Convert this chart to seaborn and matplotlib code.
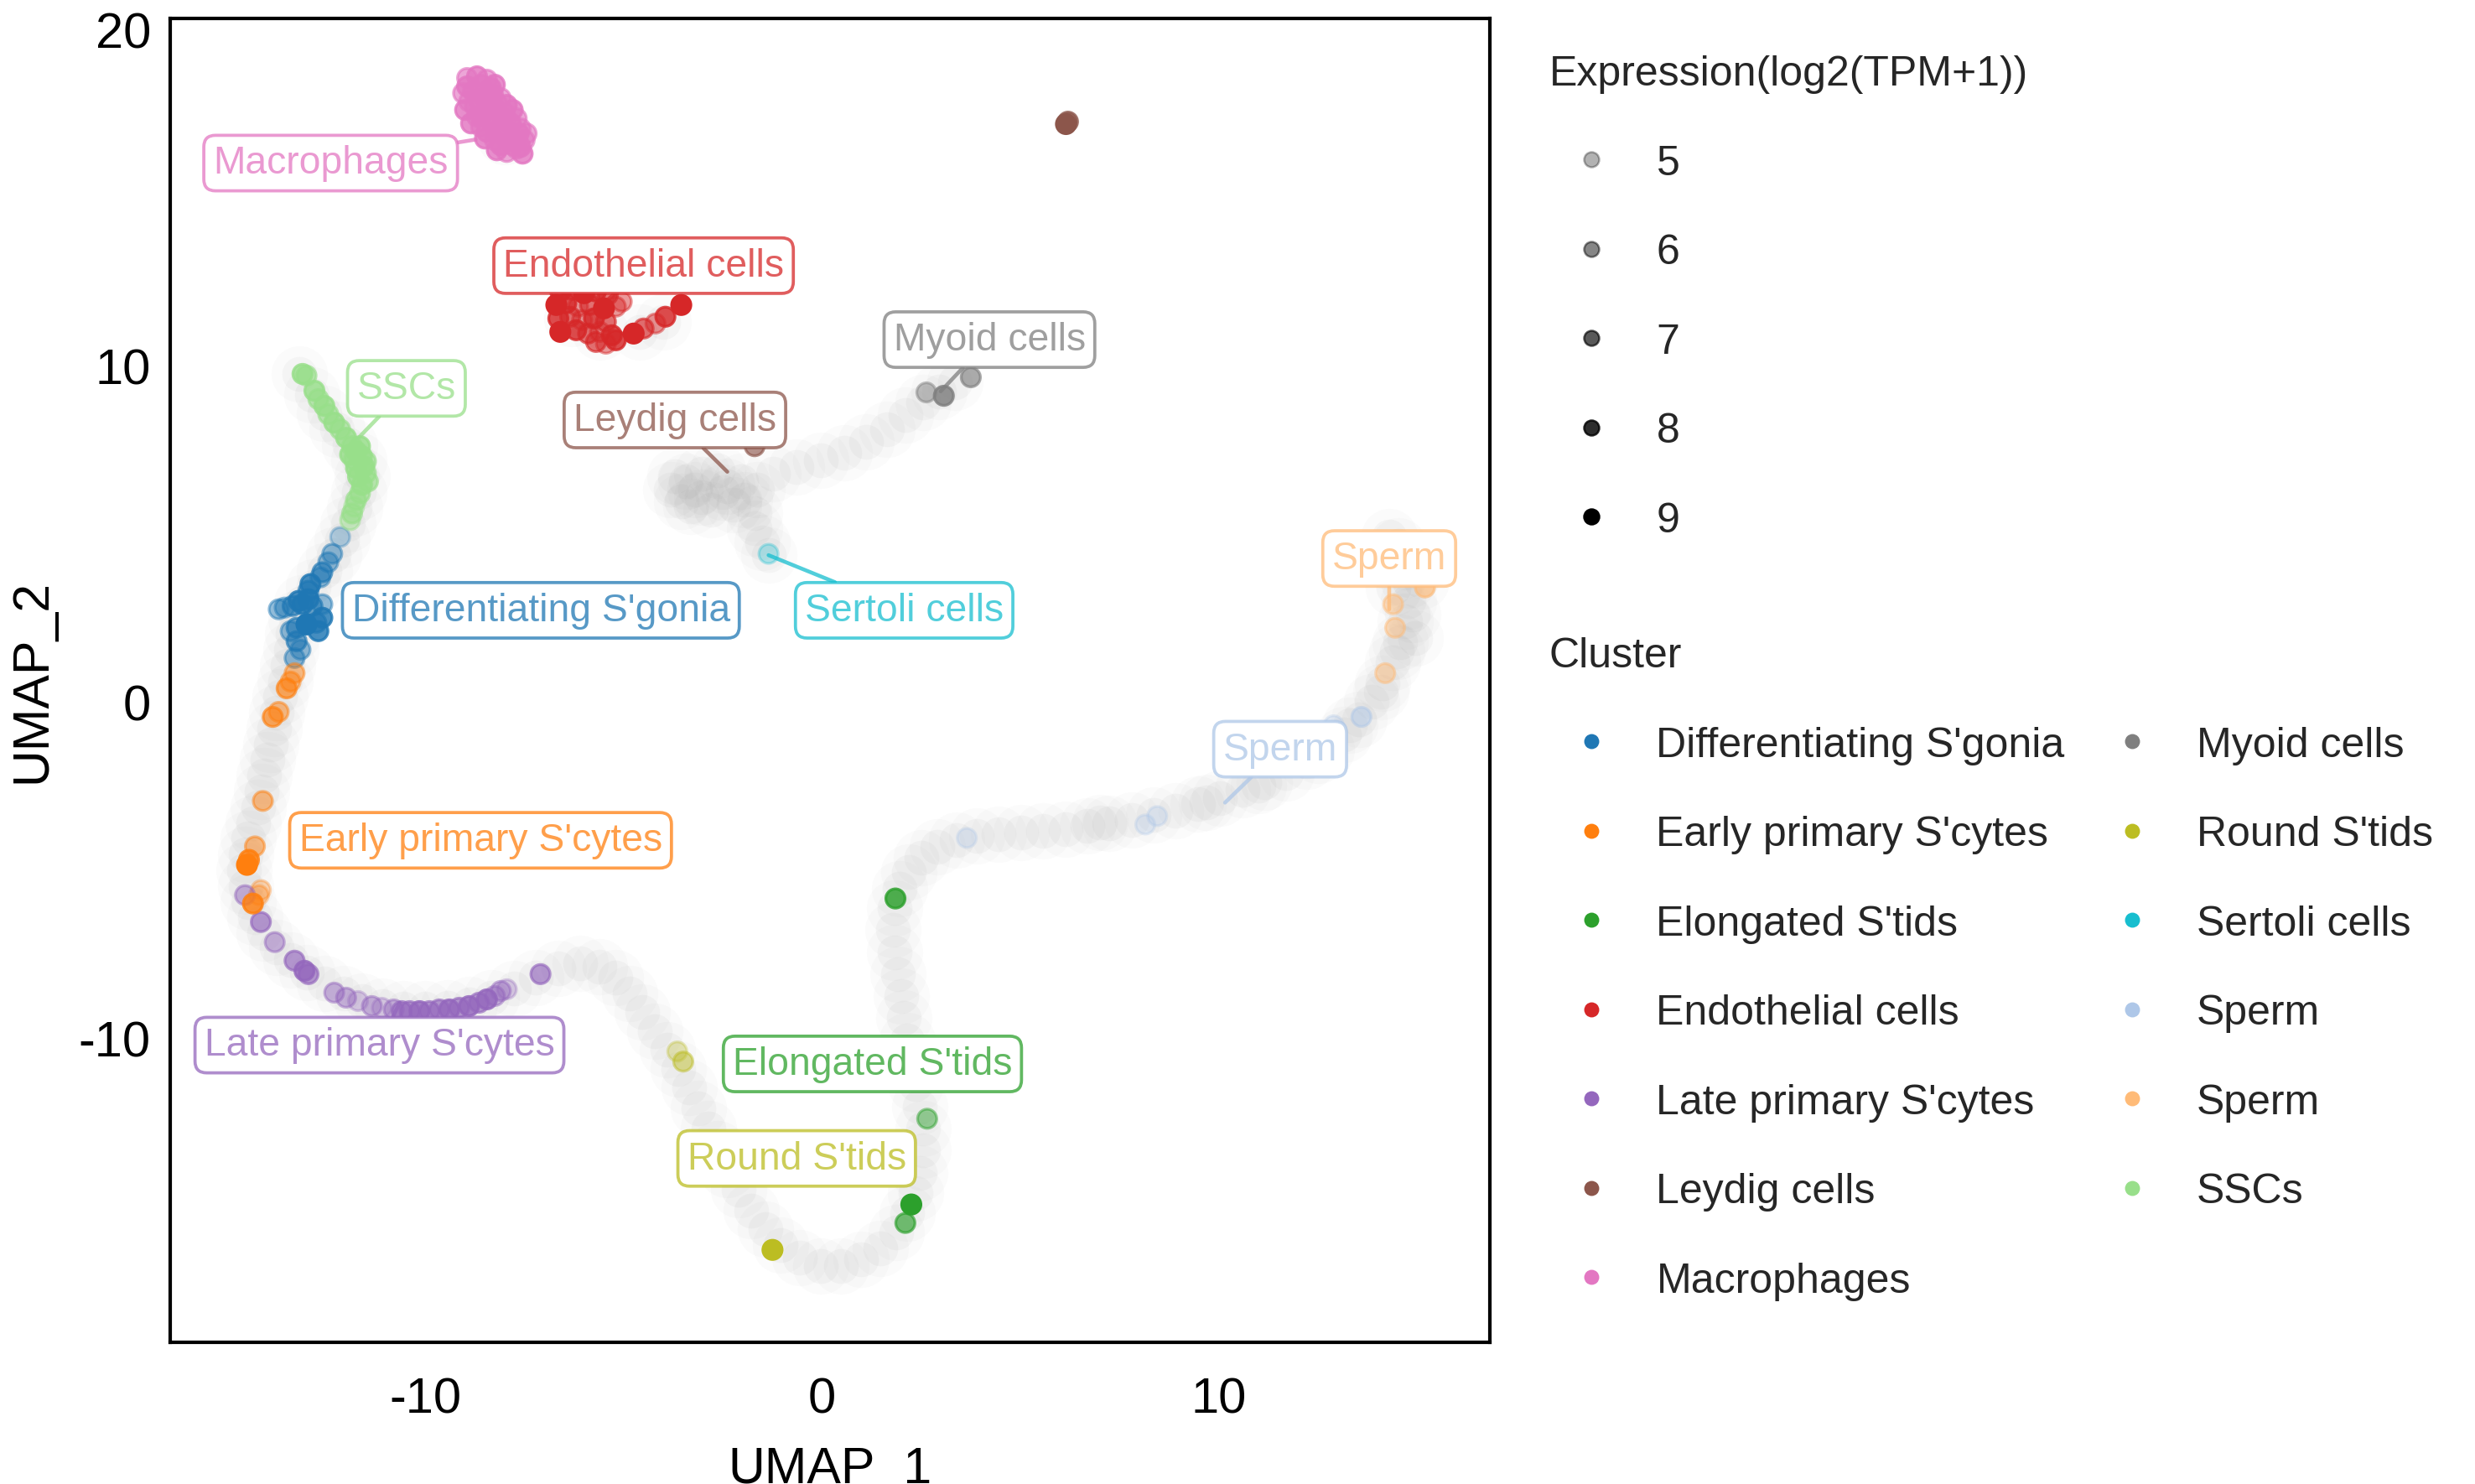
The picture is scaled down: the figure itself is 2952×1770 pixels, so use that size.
import matplotlib
matplotlib.use("Agg")
import matplotlib.pyplot as plt
from matplotlib.lines import Line2D
from matplotlib.colors import to_rgba
import numpy as np
import pandas as pd
import seaborn as sns

# ---------------- data ----------------
cluster_keys = ["Differentiating S'gonia", "Early primary S'cytes", "Elongated S'tids",
                "Endothelial cells", "Late primary S'cytes", "Leydig cells", "Macrophages",
                "Myoid cells", "Round S'tids", "Sertoli cells", "Sperm_a", "Sperm_b", "SSCs"]
cluster_labels = ["Differentiating S'gonia", "Early primary S'cytes", "Elongated S'tids",
                  "Endothelial cells", "Late primary S'cytes", "Leydig cells", "Macrophages",
                  "Myoid cells", "Round S'tids", "Sertoli cells", "Sperm", "Sperm", "SSCs"]
cluster_colors = ["#1f77b4", "#ff7f0e", "#2ca02c", "#d62728", "#9467bd", "#8c564b", "#e377c2",
                  "#7f7f7f", "#bcbd22", "#17becf", "#aec7e8", "#ffbb78", "#98df8a"]
expr_levels = [5, 6, 7, 8, 9]

# background (all cells) along the trajectory
bg_x = [-13.19, -12.87, -12.55, -12.23, -11.91, -11.67, -11.59, -11.67, -11.79, -11.95, -12.11,
        -12.31, -12.55, -12.83, -13.11, -13.27, -13.35, -13.39, -13.47, -13.55, -13.67, -13.75,
        -13.82, -13.90, -13.98, -14.06, -14.14, -14.22, -14.34, -14.46, -14.54, -14.58, -14.54,
        -14.46, -14.30, -14.06, -13.75, -13.39, -12.99, -12.55, -12.07, -11.59, -11.08, -10.56,
        -10.00, -9.44, -8.88, -8.33, -7.77, -7.21, -6.65, -6.10, -5.62, -5.22, -4.86, -4.54,
        -4.22, -3.90, -3.63, -3.35, -3.11, -2.87, -2.63, -2.39, -2.11, -1.79, -1.43, -1.04,
        -0.56, -0.04, 0.48, 0.99, 1.47, 1.87, 2.15, 2.35, 2.47, 2.55, 2.55, 2.47, 2.35, 2.23,
        2.15, 2.07, 1.99, 1.91, 1.83, 1.79, 1.83, 1.95, 2.19, 2.51, 2.91, 3.39, 3.90, 4.46,
        5.02, 5.58, 6.14, 6.69, 7.25, 7.81, 8.37, 8.92, 9.48, 10.04, 10.60, 11.16, 11.71,
        12.23, 12.71, 13.15, 13.55, 13.86, 14.14, 14.38, 14.58, 14.70, 14.78, 14.78, 14.70,
        14.54, 14.30,
        -3.82, -3.43, -3.03, -2.63, -3.55, -3.03, -2.51, -2.03, -2.23, -1.63, -1.71, -1.24,
        -0.64, -0.04, 0.56, 1.12, 1.63, 2.11, 2.55, 2.95, 3.35, -1.71, -1.51, -1.35,
        -3.70, -3.20, -2.80, -2.40, -1.95, -3.30,
        -6.3, -5.6, -4.6, -4.0, -8.4, -8.0,
        14.5, 14.9, 14.4, 14.1, 13.3, 12.5, 15.1, 11.0, 9.7, 7.0, 14.95, 14.25]
bg_y = [9.74, 9.13, 8.57, 8.10, 7.63, 7.17, 6.70, 6.23, 5.76, 5.29, 4.82,
        4.36, 3.89, 3.42, 2.95, 2.48, 2.01, 1.55, 1.08, 0.61, 0.14, -0.33,
        -0.80, -1.26, -1.73, -2.20, -2.67, -3.14, -3.61, -4.07, -4.54, -5.01, -5.48,
        -5.95, -6.42, -6.89, -7.31, -7.68, -8.06, -8.38, -8.67, -8.90, -9.04, -9.13,
        -9.13, -9.09, -8.99, -8.81, -8.52, -8.20, -7.92, -7.78, -7.87, -8.20, -8.67, -9.23,
        -9.79, -10.35, -10.91, -11.48, -12.08, -12.69, -13.30, -13.91, -14.52, -15.13, -15.69, -16.16,
        -16.53, -16.77, -16.77, -16.58, -16.25, -15.78, -15.22, -14.61, -14.00, -13.35, -12.69, -12.04, -11.38, -10.73,
        -10.07, -9.41, -8.76, -8.10, -7.45, -6.79, -6.14, -5.57, -5.06, -4.64, -4.31, -4.12, -3.98, -3.93,
        -3.89, -3.84, -3.79, -3.70, -3.61, -3.51, -3.37, -3.23, -3.04, -2.86, -2.62, -2.39, -2.11,
        -1.78, -1.41, -0.98, -0.52, 0.00, 0.56, 1.17, 1.78, 2.39, 3.00, 3.61, 4.17,
        4.64, 4.92,
        6.32, 6.56, 6.79, 6.89, 5.95, 6.09, 6.23, 6.56, 5.85, 6.32, 5.62, 6.79,
        6.98, 7.17, 7.40, 7.73, 8.10, 8.52, 8.90, 9.23, 9.51, 5.15, 4.73, 4.36,
        6.70, 6.30, 5.70, 6.40, 6.00, 5.80,
        11.4, 11.0, 11.0, 11.3, 17.4, 16.8,
        1.5, 2.6, 3.4, 0.3, -0.7, -1.6, 3.6, -2.5, -3.0, -3.6, 1.9, 4.2]

# coloured cells: coordinates and expression (log2(TPM+1)) per cluster
dsg_x = [-12.15, -12.35, -12.45, -12.6, -12.65, -12.9, -12.95, -13.2, -13.35, -13.55, -13.7, -13.1,
         -12.85, -12.6, -12.6, -12.75, -13.0, -13.25, -13.4, -13.25, -13.15, -13.3, -12.7, -12.95]
dsg_y = [4.9, 4.4, 4.15, 3.85, 3.7, 3.5, 3.3, 3.0, 2.85, 2.8, 2.75, 2.9,
         2.85, 2.9, 2.5, 2.35, 2.3, 2.2, 2.1, 1.8, 1.55, 1.3, 2.1, 3.05]
dsg_e = [5, 6, 6, 7, 6, 8, 7, 8, 7, 6, 6, 8, 7, 6, 8, 7, 9, 7, 6, 7, 6, 6, 8, 8]

eps_x = [-13.3, -13.4, -13.5, -13.7, -13.85, -14.1, -14.3, -14.45, -14.5, -14.15, -14.35, -14.2]
eps_y = [0.85, 0.6, 0.4, -0.3, -0.45, -2.95, -4.3, -4.7, -4.85, -5.6, -6.0, -5.75]
eps_e = [6, 6, 7, 6, 7, 6, 6, 8, 9, 5, 8, 5]

est_x = [1.85, 2.65, 2.25, 2.1]
est_y = [-5.85, -12.4, -14.95, -15.5]
est_e = [8, 6, 9, 7]

endo_x = [-6.6, -6.3, -6.0, -5.7, -5.4, -6.7, -6.45, -6.15, -5.85, -5.5, -5.2, -6.65, -6.35,
          -6.05, -5.75, -5.45, -6.6, -6.2, -5.9, -5.6, -5.3, -5.7, -5.45, -5.2,
          -4.75, -4.5, -4.2, -3.95, -3.55, -5.05]
endo_y = [12.2, 12.25, 12.15, 12.2, 12.1, 11.8, 11.85, 11.75, 11.8, 11.7, 11.75, 11.4, 11.45,
          11.35, 11.4, 11.3, 11.0, 11.05, 10.95, 11.0, 10.9, 10.7, 10.65, 10.75,
          10.95, 11.1, 11.25, 11.45, 11.8, 11.9]
endo_e = [8, 7, 9, 8, 7, 9, 8, 6, 7, 9, 6, 8, 7, 6, 8, 7, 9, 8, 7, 6, 8, 7, 6, 8,
          9, 7, 6, 8, 9, 6]

lps_x = [-14.55, -14.15, -13.8, -13.3, -13.05, -12.95, -12.3, -12.0, -11.7, -11.35, -11.1, -10.8,
         -10.6, -10.4, -10.15, -9.9, -9.65, -9.4, -9.15, -8.9, -8.65, -8.45, -8.25, -8.1, -7.95, -7.1]
lps_y = [-5.75, -6.55, -7.15, -7.7, -8.0, -8.1, -8.65, -8.8, -8.9, -9.05, -9.1, -9.15,
         -9.2, -9.2, -9.2, -9.2, -9.15, -9.15, -9.1, -9.05, -8.95, -8.85, -8.75, -8.6, -8.55, -8.1]
lps_e = [6, 7, 6, 7, 8, 7, 6, 6, 5, 6, 5, 6, 7, 7, 8, 7, 7, 8, 7, 8, 7, 8, 6, 6, 5, 7]

ley_x = [-1.7, 6.2, 6.15]
ley_y = [7.6, 17.25, 17.18]
ley_e = [7, 8, 9]

mac_x = [-8.95, -8.7, -8.45, -8.25, -9.05, -8.8, -8.55, -8.3, -8.1, -9.0, -8.75, -8.5, -8.25,
         -8.0, -7.8, -8.85, -8.6, -8.35, -8.1, -7.85, -7.6, -8.5, -8.25, -8.0, -7.75, -7.5,
         -8.2, -7.95, -7.7, -7.55, -8.7, -8.4, -7.9,
         -8.95, -8.6, -8.35, -8.9, -8.65, -8.2, -7.95, -8.6, -8.3, -8.05, -7.7, -8.45, -8.2,
         -7.65, -7.45, -8.1, -7.8, -7.6]
mac_y = [18.55, 18.6, 18.5, 18.35, 18.1, 18.15, 18.0, 18.05, 17.95, 17.6, 17.7, 17.55, 17.65,
         17.5, 17.6, 17.2, 17.1, 17.25, 17.1, 17.2, 17.05, 16.75, 16.7, 16.8, 16.65, 16.7,
         16.4, 16.35, 16.45, 16.3, 17.4, 17.85, 16.95,
         18.3, 18.35, 18.25, 17.85, 17.9, 17.8, 17.75, 17.4, 17.45, 17.35, 17.35, 16.95, 16.95,
         16.9, 16.9, 16.55, 16.55, 16.5]
mac_e = [7, 8, 7, 8, 7, 8, 7, 8, 7, 8, 7, 8, 7, 7, 8, 8, 7, 8, 7, 8, 7, 8, 7, 7, 8, 7,
         8, 7, 7, 8, 7, 8, 7,
         8, 7, 8, 7, 8, 7, 8, 8, 7, 8, 7, 8, 7, 8, 7, 8, 7, 8]

myo_x = [2.63, 3.07, 3.75]
myo_y = [9.2, 9.1, 9.65]
myo_e = [6, 8, 7]

rst_x = [-3.65, -3.5, -1.25]
rst_y = [-10.4, -10.7, -16.3]
rst_e = [5, 6, 9]

ser_x = [-1.35]
ser_y = [4.4]
ser_e = [5]

spa_x = [3.65, 8.15, 8.45, 12.9, 13.6]
spa_y = [-4.05, -3.65, -3.4, -0.7, -0.45]
spa_e = [5, 5, 5, 5, 6]

spb_x = [15.2, 14.4, 14.45, 14.2]
spb_y = [3.4, 2.9, 2.2, 0.85]
spb_e = [7, 6, 6, 6]

ssc_x = [-13.1, -13.0, -12.8, -12.7, -12.55, -12.45, -12.3, -12.15, -12.0, -11.85, -11.75, -11.6,
         -11.8, -11.55, -11.75, -11.5, -11.7, -11.45, -11.6, -11.65, -11.75, -11.8, -11.85, -11.9,
         -11.65, -11.5, -11.9]
ssc_y = [9.75, 9.7, 9.25, 9.0, 8.8, 8.55, 8.3, 8.1, 7.85, 7.6, 7.45, 7.3,
         7.2, 7.0, 6.95, 6.8, 6.7, 6.55, 6.45, 6.2, 6.0, 5.8, 5.6, 5.4,
         7.6, 7.15, 7.35]
ssc_e = [8, 7, 8, 7, 8, 7, 8, 7, 8, 7, 8, 8, 7, 8, 8, 7, 8, 7, 8, 7, 7, 6, 7, 6, 8, 7, 8]

# cluster labels (text position and point the leader line goes to)
lab_names = ["Macrophages", "Endothelial cells", "Myoid cells", "SSCs", "Leydig cells", "Sperm",
             "Differentiating S'gonia", "Sertoli cells", "Sperm", "Early primary S'cytes",
             "Late primary S'cytes", "Elongated S'tids", "Round S'tids"]
lab_cluster = [6, 3, 7, 12, 5, 11, 0, 9, 10, 1, 4, 2, 8]
lab_x = [-12.39, -4.50, 4.22, -10.48, -3.71, 14.30, -7.09, 2.07, 11.55, -8.61, -11.16, 1.27, -0.64]
lab_y = [16.02, 12.97, 10.77, 9.32, 8.38, 4.26, 2.72, 2.72, -1.41, -4.12, -10.21, -10.77, -13.58]
seg_x = [-8.73, -5.70, 2.99, -11.67, -2.39, 14.30, np.nan, -1.35, 10.16, np.nan, -10.65, np.nan, np.nan]
seg_y = [16.72, 11.62, 9.23, 7.87, 6.84, 2.75, np.nan, 4.36, -3.00, np.nan, -8.95, np.nan, np.nan]

# ---------------- plotting ----------------
sns.set_theme(style="white")
plt.rcParams['font.family'] = ['Liberation Sans', 'DejaVu Sans']
plt.rcParams['axes.unicode_minus'] = False

fig = plt.figure(figsize=(9.84, 5.9033), dpi=300)
ax = fig.add_axes([0.0687, 0.0954, 0.5333, 0.8916])

bg = pd.DataFrame({'x': bg_x, 'y': bg_y})
sns.scatterplot(data=bg, x='x', y='y', ax=ax, s=260, color='#9a9a9a', alpha=0.04,
                linewidth=0, legend=False, zorder=1)
sns.scatterplot(data=bg, x='x', y='y', ax=ax, s=100, color='#9a9a9a', alpha=0.07,
                linewidth=0, legend=False, zorder=1)

cluster_points = [(dsg_x, dsg_y, dsg_e), (eps_x, eps_y, eps_e), (est_x, est_y, est_e),
                  (endo_x, endo_y, endo_e), (lps_x, lps_y, lps_e), (ley_x, ley_y, ley_e),
                  (mac_x, mac_y, mac_e), (myo_x, myo_y, myo_e), (rst_x, rst_y, rst_e),
                  (ser_x, ser_y, ser_e), (spa_x, spa_y, spa_e), (spb_x, spb_y, spb_e),
                  (ssc_x, ssc_y, ssc_e)]
frames = []
for key, (xs, ys, es) in zip(cluster_keys, cluster_points):
    frames.append(pd.DataFrame({'x': xs, 'y': ys, 'expr': es, 'cluster': key}))
cells = pd.concat(frames, ignore_index=True)
palette = dict(zip(cluster_keys, cluster_colors))


def expr_alpha(e):
    return 0.3 + 0.7 * (e - 5) / 4.0


for e in sorted(cells['expr'].unique()):
    sub = cells[cells['expr'] == e]
    sns.scatterplot(data=sub, x='x', y='y', hue='cluster', palette=palette,
                    hue_order=cluster_keys, s=30, alpha=expr_alpha(e),
                    edgecolor='face', linewidth=0.8, legend=False, ax=ax, zorder=3)

for name, ci, lx, ly, sx, sy in zip(lab_names, lab_cluster, lab_x, lab_y, seg_x, seg_y):
    col = to_rgba(cluster_colors[ci], 0.75)
    bbox = dict(boxstyle='round,pad=0.24,rounding_size=0.3', fc='white', ec=col, lw=0.9)
    if np.isnan(sx):
        ax.text(lx, ly, name, color=col, fontsize=11.1, ha='center', va='center',
                bbox=bbox, zorder=5)
    else:
        ax.annotate(name, xy=(sx, sy), xytext=(lx, ly), color=col, fontsize=11.1,
                    ha='center', va='center', bbox=bbox, zorder=5,
                    arrowprops=dict(arrowstyle='-', color=col, lw=1.1,
                                    shrinkA=0, shrinkB=0))

ax.set_xlim(-16.44, 16.84)
ax.set_ylim(-19.05, 20.32)
ax.set_xticks([-10, 0, 10])
ax.set_yticks([-10, 0, 10, 20])
ax.tick_params(axis='both', length=0, labelsize=14.3, colors='black')
ax.tick_params(axis='x', pad=9.8)
ax.tick_params(axis='y', pad=5.5)
ax.set_xlabel('UMAP_1', fontsize=14.6, labelpad=6.5, color='black')
ax.set_ylabel('UMAP_2', fontsize=14.6, labelpad=6.3, color='black')
for sp in ax.spines.values():
    sp.set_visible(True)
    sp.set_color('black')
    sp.set_linewidth(1.0)

# legends
expr_handles = [Line2D([0], [0], marker='o', linestyle='none', markersize=4.3,
                       markerfacecolor=to_rgba('black', expr_alpha(e)),
                       markeredgecolor=to_rgba('black', expr_alpha(e)), markeredgewidth=0.6)
                for e in expr_levels]
fig.legend(expr_handles, [str(e) for e in expr_levels], title='Expression(log2(TPM+1))',
           loc='upper left', bbox_to_anchor=(0.626, 0.9625), frameon=False,
           fontsize=12, title_fontsize=12, alignment='left', borderpad=0, borderaxespad=0,
           handlelength=2.0, handletextpad=0.55, labelspacing=1.21)

clus_handles = [Line2D([0], [0], marker='o', linestyle='none', markersize=4.3,
                       markerfacecolor=c, markeredgecolor=c, markeredgewidth=0.0)
                for c in cluster_colors]
fig.legend(clus_handles, cluster_labels, title='Cluster', ncol=2,
           loc='upper left', bbox_to_anchor=(0.626, 0.5706), frameon=False,
           fontsize=12, title_fontsize=12, alignment='left', borderpad=0, borderaxespad=0,
           handlelength=2.0, handletextpad=0.55, labelspacing=1.21, columnspacing=0.6)

fig.savefig('out.png', dpi=300)
